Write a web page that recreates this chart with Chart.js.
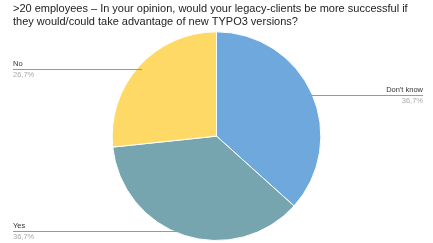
<!DOCTYPE html>
<html>
<head>
<meta charset="utf-8">
<script src="https://cdn.jsdelivr.net/npm/chart.js@4/dist/chart.umd.min.js"></script>
<style>
  html, body { margin: 0; padding: 0; background: #fff; }
  #wrap { width: 433px; height: 243px; }
</style>
</head>
<body>
<div id="wrap"><canvas id="grafico"></canvas></div>
<script>
const titleLines = [
    '>20 employees \u2013 In your opinion, would your legacy-clients be more successful if',
    'they would/could take advantage of new TYPO3 versions?'
];
const categories = ["Don't know", 'Yes', 'No'];
const values = [36.7, 36.7, 26.7];
const valueLabels = ['36,7%', '36,7%', '26,7%'];
const colors = ['#6fa8dc', '#76a5af', '#ffd966'];

// Linhas de chamada com rótulo e percentagem
const leaderLines = {
    id: 'leaderLines',
    afterDraw(chart) {
        const ctx = chart.ctx;
        const meta = chart.getDatasetMeta(0);
        const left = 13, right = 423;
        meta.data.forEach((arc, i) => {
            const mid = (arc.startAngle + arc.endAngle) / 2;
            const r = arc.outerRadius * 0.96;
            const px = arc.x + Math.cos(mid) * r;
            const py = arc.y + Math.sin(mid) * r;
            const toRight = Math.cos(mid) > 0;
            const ex = toRight ? right : left;
            ctx.save();
            ctx.strokeStyle = '#999';
            ctx.lineWidth = 1;
            ctx.beginPath();
            ctx.moveTo(px, Math.round(py) + 0.5);
            ctx.lineTo(ex, Math.round(py) + 0.5);
            ctx.stroke();
            ctx.font = '7.5px "Liberation Sans", Arial, sans-serif';
            ctx.textAlign = toRight ? 'right' : 'left';
            ctx.fillStyle = '#333';
            ctx.textBaseline = 'bottom';
            ctx.fillText(categories[i], ex, Math.round(py) - 1);
            ctx.fillStyle = '#aaa';
            ctx.textBaseline = 'top';
            ctx.fillText(valueLabels[i], ex, Math.round(py) + 2);
            ctx.restore();
        });
    }
};

const ctx = document.getElementById('grafico').getContext('2d');
new Chart(ctx, {
    type: 'pie',
    data: {
        labels: categories,
        datasets: [{
            data: values,
            backgroundColor: colors,
            borderColor: '#fff',
            borderWidth: 1
        }]
    },
    options: {
        responsive: true,
        maintainAspectRatio: false,
        animation: false,
        layout: {
            padding: { left: 13, right: 13, top: 0, bottom: 2 }
        },
        plugins: {
            legend: { display: false },
            tooltip: { enabled: false },
            title: {
                display: true,
                text: titleLines,
                align: 'start',
                color: '#222',
                font: { family: '"Liberation Sans", Arial, sans-serif', size: 11, weight: 'normal', lineHeight: 1.15 },
                padding: { top: 3, bottom: 3 }
            }
        }
    },
    plugins: [leaderLines]
});
</script>
</body>
</html>
